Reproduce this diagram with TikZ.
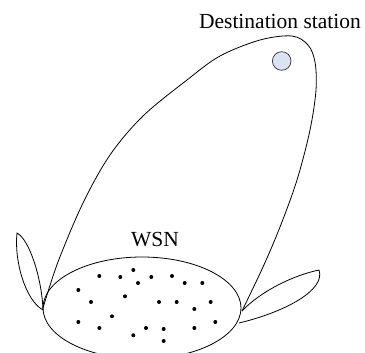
\documentclass[tikz,border=0pt]{standalone}
\usepackage{fontspec}
\setmainfont{Liberation Serif}
\begin{document}
\begin{tikzpicture}[x=1pt,y=-1pt,line width=0.8pt,
  lbl/.style={font=\fontsize{21.5}{24}\selectfont, inner sep=0pt, anchor=base},
  sensor/.style={fill=black, circle, inner sep=0pt, minimum size=4pt},
  dest/.style={circle, draw=black!80, fill=blue!8!cyan!5!white, fill=blueish, minimum size=18.6pt, inner sep=0pt, line width=0.7pt}]
\definecolor{blueish}{HTML}{DAE3F3}
\useasboundingbox (0,0) rectangle (365,353);
\clip (0,0) rectangle (365,353);
% big communication loop
\draw plot[smooth, tension=0.55] coordinates {(43,308) (58,262) (83,203) (110,155) (143,116) (187,80) (220,56) (260,40) (292,36) (308,45) (315,62) (316,90) (310,130) (297,180) (280,227) (263,267) (242,311)};
% left petal
\draw (43,310) .. controls (25,300) and (14,260) .. (17,233) .. controls (30,240) and (42,280) .. (43,310);
% right petal
\draw (242,311) .. controls (262,290) and (295,275) .. (319,270) .. controls (326,290) and (285,312) .. (239,323);
% WSN ellipse
\draw (142,308) ellipse [x radius=99, y radius=51];
% destination station
\node[dest] (ds) at (281.7,61) {};
\node[lbl] (dstext) at (280,29) {Destination station};
\node[lbl] (wsn) at (155,247) {WSN};
% sensors
\foreach \p [count=\i] in {(99.3,276),(120.3,277),(133.3,270),(138,283),(151.3,277),(172,276),(184.7,283),(202.3,283),(78.3,290),(125,296.3),(91,302),(159,302),(176.7,302),(210.7,302),(194.3,309),(112,316.3),(78.3,322),(99.3,328),(146,328),(163.7,329),(194.3,328),(215.3,322),(133.3,335.3),(163.7,341)}
  \node[sensor] (s\i) at \p {};
\end{tikzpicture}
\end{document}
